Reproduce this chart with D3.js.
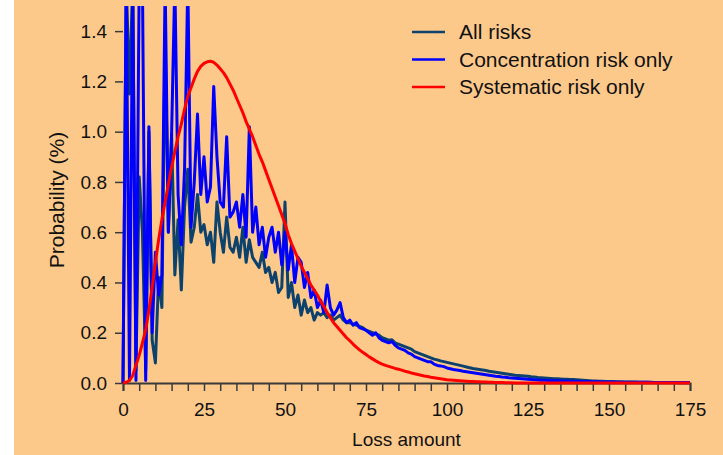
<!DOCTYPE html>
<html>
<head>
<meta charset="utf-8">
<script src="https://cdn.jsdelivr.net/npm/d3@7"></script>
<style>
  body { margin: 0; background: #fff; }
  text { font-family: "Liberation Sans", Arial, Helvetica, sans-serif; }
</style>
</head>
<body>
<script>
// loss distribution: all risks vs concentration only vs systematic only

var lossAmount = d3.range(0, 176); // integer loss amounts 0..175

var allRisks = [
  0.0, 1.6, 1.15, 1.6, 0.05, 0.82, 0.6, 0.05, 1.0, 0.17,
  0.08, 0.42, 0.3, 1.38, 0.6, 0.99, 0.43, 0.65, 0.37, 0.7,
  0.85, 0.56, 0.62, 0.75, 0.6, 0.63, 0.55, 0.6, 0.48, 0.72,
  0.6, 0.52, 0.66, 0.54, 0.52, 0.58, 0.5, 0.62, 0.48, 0.57,
  0.5, 0.48, 0.46, 0.52, 0.44, 0.46, 0.4, 0.44, 0.36, 0.38,
  0.72, 0.34, 0.4, 0.3, 0.35, 0.27, 0.33, 0.28, 0.3, 0.25,
  0.28, 0.27, 0.28, 0.26, 0.27, 0.25, 0.26, 0.27, 0.25, 0.24,
  0.24, 0.235, 0.23, 0.225, 0.22, 0.21, 0.205, 0.2, 0.195, 0.19,
  0.18, 0.175, 0.17, 0.172, 0.16, 0.155, 0.15, 0.145, 0.14, 0.135,
  0.125, 0.12, 0.115, 0.11, 0.105, 0.1, 0.095, 0.092, 0.088, 0.085,
  0.082, 0.079, 0.076, 0.073, 0.07, 0.067, 0.064, 0.061, 0.058, 0.056,
  0.054, 0.052, 0.05, 0.047, 0.045, 0.043, 0.041, 0.039, 0.037, 0.035,
  0.033, 0.031, 0.03, 0.029, 0.028, 0.027, 0.025, 0.024, 0.022, 0.021,
  0.02, 0.019, 0.018, 0.017, 0.017, 0.016, 0.015, 0.015, 0.014, 0.014,
  0.013, 0.012, 0.011, 0.01, 0.009, 0.008, 0.008, 0.007, 0.007, 0.006,
  0.006, 0.006, 0.005, 0.005, 0.005, 0.004, 0.004, 0.004, 0.004, 0.003,
  0.003, 0.003, 0.003, 0.003, 0.002, 0.002, 0.002, 0.002, 0.002, 0.002,
  0.002, 0.002, 0.001, 0.001, 0.001, 0.001
];

var concentration = [
  0.0, 1.6, 0.01, 1.6, 0.01, 1.6, 1.6, 0.01, 1.02, 0.2,
  0.52, 0.35, 0.43, 1.6, 0.6, 0.99, 1.6, 0.75, 0.55, 0.85,
  1.6, 0.62, 0.8, 1.07, 0.75, 0.9, 0.72, 0.78, 1.18, 0.9,
  0.72, 0.7, 0.98, 0.66, 0.68, 0.72, 0.62, 0.75, 0.58, 1.02,
  0.6, 0.7, 0.55, 0.62, 0.5, 0.58, 0.62, 0.52, 0.6, 0.47,
  0.6, 0.45, 0.55, 0.4, 0.5, 0.48, 0.38, 0.44, 0.34, 0.37,
  0.3, 0.33, 0.28, 0.39, 0.3, 0.27, 0.29, 0.32, 0.26, 0.24,
  0.25, 0.23, 0.24, 0.22, 0.215, 0.21, 0.2, 0.19, 0.2, 0.18,
  0.17, 0.165, 0.16, 0.165, 0.15, 0.14, 0.135, 0.13, 0.12, 0.115,
  0.105, 0.1, 0.095, 0.09, 0.085, 0.085, 0.075, 0.07, 0.068, 0.065,
  0.06, 0.057, 0.054, 0.052, 0.05, 0.047, 0.045, 0.043, 0.041, 0.039,
  0.037, 0.035, 0.033, 0.031, 0.029, 0.027, 0.026, 0.024, 0.023, 0.021,
  0.02, 0.019, 0.018, 0.017, 0.016, 0.015, 0.014, 0.013, 0.012, 0.011,
  0.011, 0.01, 0.01, 0.009, 0.009, 0.008, 0.008, 0.008, 0.007, 0.007,
  0.007, 0.006, 0.006, 0.006, 0.005, 0.005, 0.005, 0.005, 0.004, 0.004,
  0.004, 0.004, 0.004, 0.003, 0.003, 0.003, 0.003, 0.003, 0.003, 0.003,
  0.003, 0.003, 0.003, 0.002, 0.002, 0.002, 0.002, 0.002, 0.002, 0.002,
  0.002, 0.002, 0.002, 0.002, 0.002, 0.002
];

var systematic = [
  0, 0.003, 0.01, 0.03, 0.07, 0.11, 0.16, 0.21, 0.29, 0.38,
  0.48, 0.57, 0.65, 0.72, 0.79, 0.86, 0.92, 0.98, 1.03, 1.09,
  1.14, 1.175, 1.21, 1.24, 1.26, 1.272, 1.278, 1.28, 1.276, 1.265,
  1.25, 1.235, 1.215, 1.19, 1.165, 1.135, 1.105, 1.075, 1.04, 1.01,
  0.98, 0.945, 0.91, 0.88, 0.845, 0.81, 0.775, 0.74, 0.705, 0.67,
  0.635, 0.59, 0.555, 0.525, 0.495, 0.465, 0.44, 0.415, 0.39, 0.37,
  0.35, 0.325, 0.305, 0.28, 0.26, 0.24, 0.225, 0.21, 0.195, 0.18,
  0.168, 0.155, 0.143, 0.132, 0.122, 0.113, 0.104, 0.096, 0.088, 0.081,
  0.075, 0.07, 0.066, 0.062, 0.058, 0.055, 0.051, 0.047, 0.044, 0.04,
  0.037, 0.034, 0.031, 0.028, 0.026, 0.023, 0.021, 0.019, 0.017, 0.015,
  0.013, 0.012, 0.011, 0.01, 0.009, 0.008, 0.007, 0.006, 0.0055, 0.005,
  0.0045, 0.004, 0.0035, 0.003, 0.0025, 0.002, 0.002, 0.0015, 0.001, 0.001,
  0.001, 0, 0, 0, 0, 0, 0, 0, 0, 0,
  0, 0, 0, 0, 0, 0, 0, 0, 0, 0,
  0, 0, 0, 0, 0, 0, 0, 0, 0, 0,
  0, 0, 0, 0, 0, 0, 0, 0, 0, 0,
  0, 0, 0, 0, 0, 0, 0, 0, 0, 0,
  0, 0, 0, 0, 0, 0
];

var xTicks = d3.range(0, 176, 5);
var yTicks = [0, 0.2, 0.4, 0.6, 0.8, 1.0, 1.2, 1.4];

var seriesNames = ["All risks", "Concentration risk only", "Systematic risk only"];
var seriesColors = ["#0d426c", "#0000ff", "#ff0000"];

var W = 723, H = 455;
var m = {left: 123, right: 690, top: 6, bottom: 383};

var svg = d3.select("body").append("svg")
  .attr("width", W)
  .attr("height", H);

svg.append("rect")
  .attr("x", 14).attr("y", 0)
  .attr("width", W - 14).attr("height", H)
  .attr("fill", "#fdc98b");

var x = d3.scaleLinear().domain([0, 175]).range([m.left, m.right]);
var y = d3.scaleLinear().domain([0, 1.5]).range([m.bottom, m.top]);

svg.append("clipPath").attr("id", "clip")
  .append("rect")
  .attr("x", m.left - 2).attr("y", m.top)
  .attr("width", m.right - m.left + 4).attr("height", m.bottom - m.top + 2);

// axes
var xAxis = d3.axisBottom(x)
  .tickValues(xTicks)
  .tickSize(8)
  .tickPadding(12)
  .tickFormat(function(d){ return d % 25 === 0 ? d : ""; });

var gx = svg.append("g")
  .attr("transform", "translate(0," + m.bottom + ")")
  .call(xAxis);
gx.select(".domain").attr("stroke", "#3a3a3a").attr("stroke-width", 2);
gx.selectAll(".tick line").attr("stroke", "#3a3a3a").attr("stroke-width", 1.5);
gx.selectAll(".tick text").attr("font-size", 19).attr("fill", "#111");

var yAxis = d3.axisLeft(y)
  .tickValues(yTicks)
  .tickSize(8)
  .tickPadding(8)
  .tickFormat(d3.format(".1f"));

var gy = svg.append("g")
  .attr("transform", "translate(" + m.left + ",0)")
  .call(yAxis);
gy.select(".domain").remove();
gy.selectAll(".tick line").attr("stroke", "#3a3a3a").attr("stroke-width", 1.5);
gy.selectAll(".tick text").attr("font-size", 19).attr("fill", "#111");

// lines
var line = d3.line()
  .x(function(d, i){ return x(lossAmount[i]); })
  .y(function(d){ return y(d); });

var plot = svg.append("g").attr("clip-path", "url(#clip)");

[allRisks, concentration, systematic].forEach(function(s, k){
  plot.append("path")
    .datum(s)
    .attr("d", line)
    .attr("fill", "none")
    .attr("stroke", seriesColors[k])
    .attr("stroke-width", 3)
    .attr("stroke-linejoin", "round");
});

// axis titles
svg.append("text")
  .attr("x", (m.left + m.right) / 2)
  .attr("y", 446)
  .attr("text-anchor", "middle")
  .attr("font-size", 19)
  .attr("fill", "#111")
  .text("Loss amount");

svg.append("text")
  .attr("transform", "translate(64,200) rotate(-90)")
  .attr("text-anchor", "middle")
  .attr("font-size", 21)
  .attr("fill", "#111")
  .text("Probability (%)");

// legend
var legend = svg.append("g");
seriesNames.forEach(function(name, i){
  var ly = 32 + i * 27.5;
  legend.append("line")
    .attr("x1", 412).attr("x2", 445)
    .attr("y1", ly).attr("y2", ly)
    .attr("stroke", seriesColors[i])
    .attr("stroke-width", 2.5);
  legend.append("text")
    .attr("x", 459).attr("y", ly)
    .attr("dy", "0.35em")
    .attr("font-size", 21)
    .attr("fill", "#111")
    .text(name);
});
</script>
</body>
</html>
